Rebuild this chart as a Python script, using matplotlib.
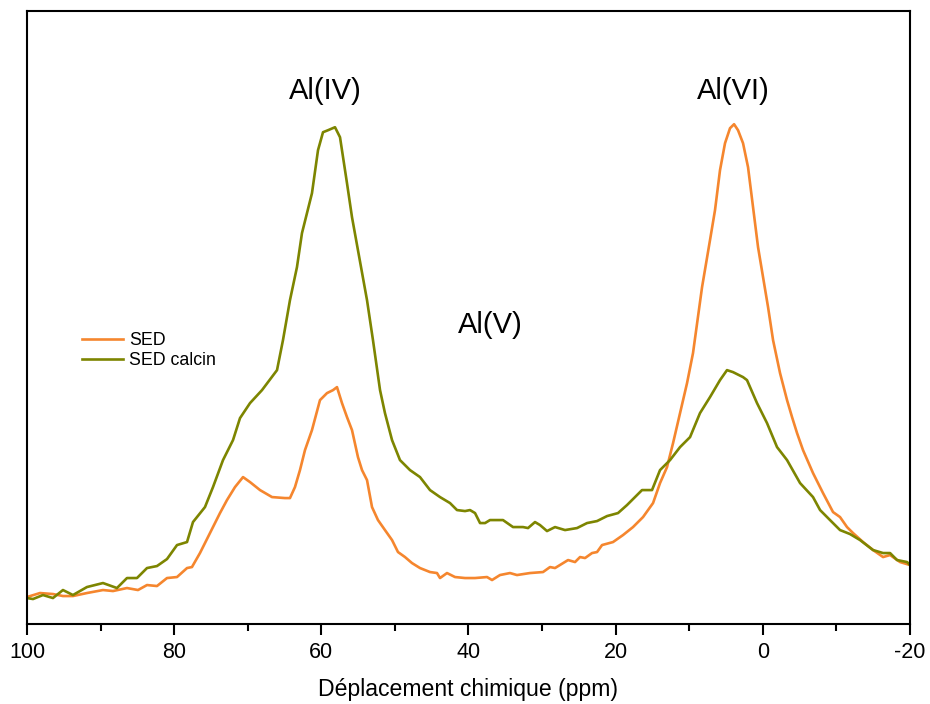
import matplotlib
matplotlib.use('Agg')
import matplotlib.pyplot as plt
from matplotlib.ticker import MultipleLocator

plt.rcParams['font.family'] = ['Liberation Sans', 'DejaVu Sans']
plt.rcParams['axes.unicode_minus'] = False

# chemical shift (ppm) and intensity (a.u.)
sed_ppm = [100.0, 98.23, 96.47, 95.11, 93.75, 91.85, 89.67, 88.31, 86.41, 84.91,
           83.69, 82.33, 80.97, 79.61, 78.25, 77.58, 76.49, 75.13, 73.77, 72.82,
           71.73, 70.64, 69.69, 68.33, 66.70, 64.94, 64.26, 63.58, 62.90, 62.22,
           61.27, 60.18, 59.23, 58.41, 57.87, 57.19, 56.51, 55.83, 55.02, 54.47,
           53.79, 53.11, 52.30, 51.35, 50.39, 49.58, 48.63, 47.68, 46.59, 45.23,
           44.28, 43.87, 42.92, 41.83, 40.47, 39.11, 37.48, 36.80, 35.72, 34.36,
           33.41, 31.64, 29.87, 28.92, 28.24, 26.47, 25.52, 24.84, 24.16, 23.21,
           22.53, 21.85, 20.36, 19.00, 17.64, 16.28, 14.92, 13.97, 13.02, 12.20,
           11.25, 10.30, 9.49, 8.26, 7.18, 6.50, 5.82, 5.14, 4.46, 3.91,
           3.37, 2.69, 2.01, 1.33, 0.65, -0.03, -0.71, -1.39, -2.34, -3.29,
           -3.97, -4.65, -5.46, -6.82, -8.18, -9.54, -10.49, -11.44, -12.26, -13.62,
           -14.98, -16.34, -17.29, -18.65, -20.0]
sed_int = [5.4, 6.2, 6.0, 5.6, 5.6, 6.2, 6.8, 6.6, 7.2, 6.8,
           7.8, 7.6, 9.2, 9.4, 11.2, 11.4, 14.2, 18.2, 22.2, 24.8,
           27.4, 29.4, 28.4, 26.8, 25.4, 25.2, 25.2, 27.4, 30.8, 34.8,
           38.8, 44.8, 46.2, 46.8, 47.4, 44.2, 41.4, 38.8, 33.4, 30.8,
           28.8, 23.4, 20.8, 18.8, 16.8, 14.4, 13.4, 12.2, 11.2, 10.4,
           10.2, 9.2, 10.2, 9.4, 9.2, 9.2, 9.4, 8.8, 9.8, 10.2,
           9.8, 10.2, 10.4, 11.4, 11.2, 12.8, 12.4, 13.4, 13.2, 14.2,
           14.4, 15.8, 16.4, 17.8, 19.4, 21.4, 24.2, 28.2, 31.4, 36.2,
           42.2, 48.2, 54.2, 67.4, 76.8, 82.8, 90.8, 96.2, 99.2, 100.0,
           98.8, 96.2, 91.4, 83.4, 75.4, 69.4, 63.4, 56.8, 50.2, 44.8,
           41.4, 38.2, 34.8, 30.2, 26.2, 22.4, 21.4, 19.4, 18.2, 16.4,
           14.8, 13.4, 13.8, 12.4, 11.8]

calc_ppm = [100.0, 99.18, 97.83, 96.47, 95.11, 93.75, 91.85, 89.67, 87.77, 86.41,
            85.05, 83.69, 82.33, 80.97, 79.61, 78.25, 77.44, 75.81, 74.72, 73.36,
            72.00, 71.05, 69.69, 68.06, 66.02, 65.21, 64.26, 63.31, 62.63, 61.27,
            60.45, 59.77, 59.09, 58.14, 57.46, 56.51, 55.83, 55.02, 53.79, 52.98,
            52.02, 51.35, 50.39, 49.31, 47.95, 46.59, 45.23, 43.87, 42.51, 41.56,
            40.47, 39.79, 39.11, 38.43, 37.75, 37.08, 35.31, 33.95, 32.59, 31.91,
            30.96, 30.28, 29.33, 28.24, 26.88, 25.25, 23.89, 22.53, 21.17, 19.68,
            18.46, 17.37, 16.42, 15.06, 13.97, 12.61, 11.25, 9.89, 8.54, 7.18,
            5.82, 4.87, 4.05, 2.69, 2.15, 0.79, -0.57, -1.93, -3.29, -5.06,
            -6.82, -7.78, -9.13, -10.49, -11.85, -13.21, -14.98, -16.34, -17.29, -18.24,
            -19.60, -20.0]
calc_int = [5.2, 5.0, 5.8, 5.2, 6.8, 5.8, 7.4, 8.2, 7.2, 9.2,
            9.2, 11.2, 11.6, 13.0, 15.8, 16.4, 20.4, 23.4, 27.4, 32.8,
            36.8, 41.2, 44.2, 46.8, 50.8, 56.8, 64.8, 71.4, 78.2, 86.2,
            94.8, 98.4, 98.8, 99.4, 97.4, 88.2, 81.4, 74.8, 64.8, 56.8,
            46.8, 42.2, 36.8, 32.8, 30.8, 29.4, 26.8, 25.4, 24.2, 22.8,
            22.6, 22.8, 22.2, 20.2, 20.2, 20.8, 20.8, 19.4, 19.4, 19.2,
            20.4, 19.8, 18.6, 19.4, 18.8, 19.2, 20.2, 20.6, 21.6, 22.2,
            23.8, 25.4, 26.8, 26.8, 30.8, 32.8, 35.4, 37.4, 42.2, 45.4,
            48.8, 50.8, 50.4, 49.4, 48.8, 44.2, 40.2, 35.4, 32.8, 28.2,
            25.4, 22.8, 20.8, 18.8, 18.0, 16.8, 14.8, 14.2, 14.2, 12.8,
            12.4, 11.8]

fig = plt.figure(figsize=(9.3, 7.04), dpi=100)
ax = fig.add_axes([0.029, 0.1136, 0.9495, 0.8704])

ax.plot(sed_ppm, sed_int, color='#F5862E', lw=1.9, label='SED')
ax.plot(calc_ppm, calc_int, color='#7D8500', lw=1.9, label='SED calcin')

ax.set_xlim(100, -20)
ax.set_ylim(0, 122.6)
ax.xaxis.set_major_locator(MultipleLocator(20))
ax.xaxis.set_minor_locator(MultipleLocator(10))
ax.set_yticks([])
ax.tick_params(axis='x', which='major', direction='out', length=8, width=1.5,
               labelsize=15.5, pad=5)
ax.tick_params(axis='x', which='minor', direction='out', length=5, width=1.5)
for s in ax.spines.values():
    s.set_linewidth(1.5)

ax.set_xlabel('Déplacement chimique (ppm)', fontsize=16.6, labelpad=11)

ax.text(59.4, 106.6, 'Al(IV)', fontsize=21, ha='center', va='center')
ax.text(4.0, 106.6, 'Al(VI)', fontsize=21, ha='center', va='center')
ax.text(37.0, 59.8, 'Al(V)', fontsize=21, ha='center', va='center')

ax.legend(loc='upper left', bbox_to_anchor=(0.062, 0.477), frameon=False,
          fontsize=12.8, handlelength=2.3, handletextpad=0.36, labelspacing=0.2,
          borderpad=0, borderaxespad=0)

fig.savefig('out.png', dpi=100)
